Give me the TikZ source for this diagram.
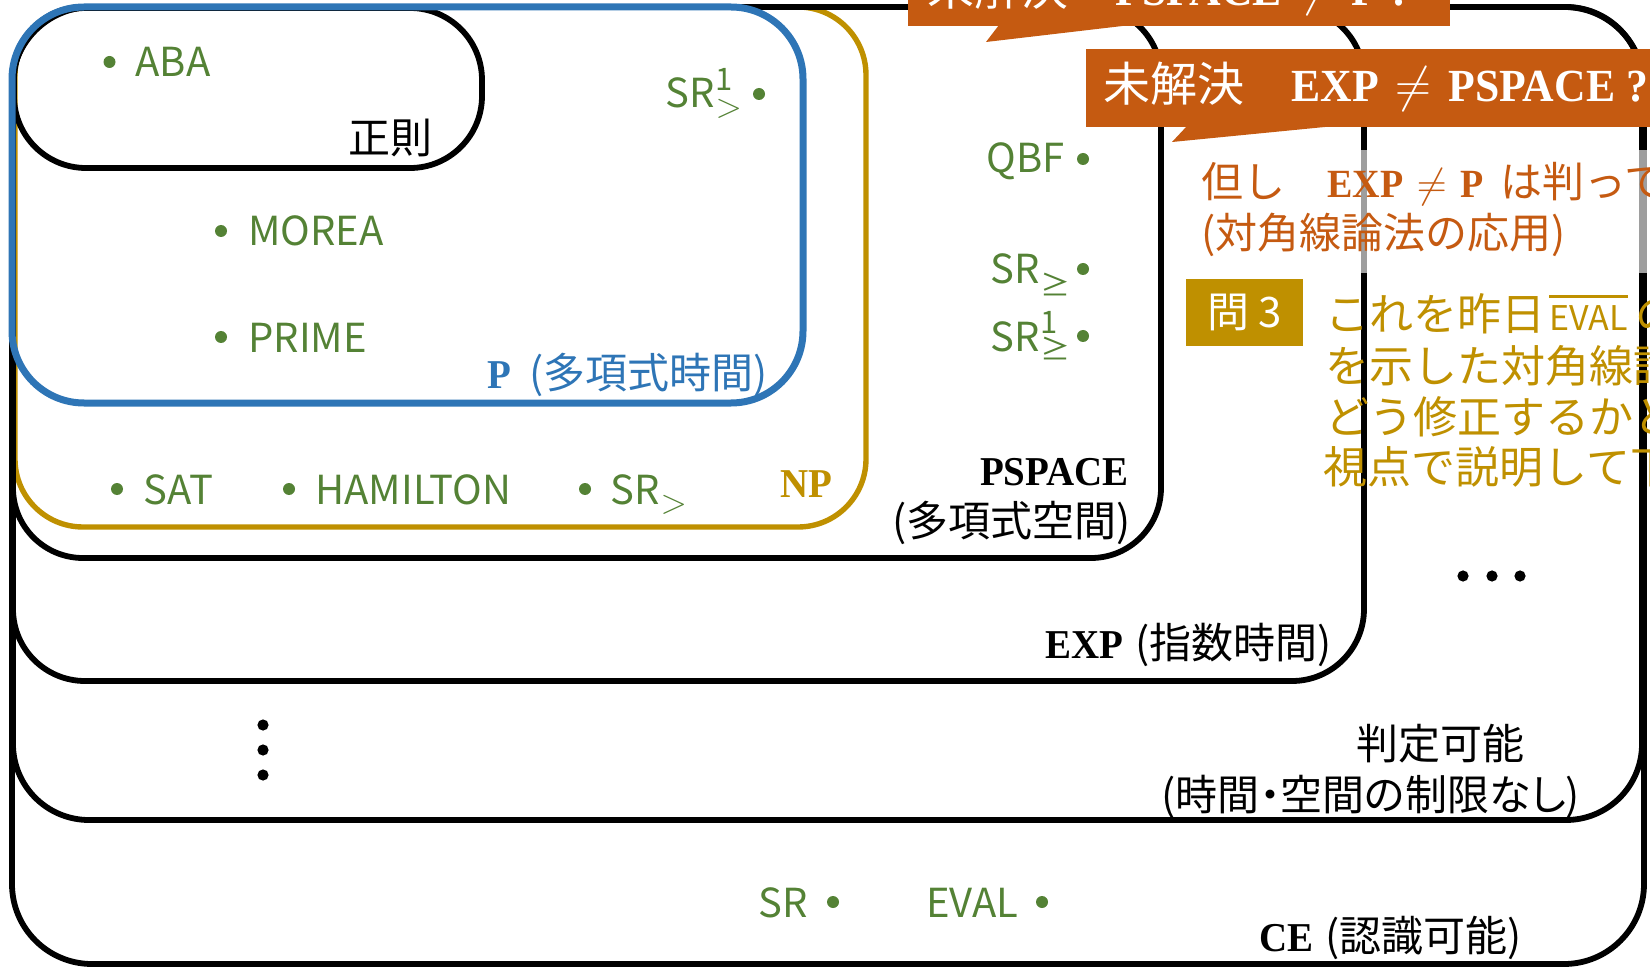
\documentclass[tikz,border=0pt]{standalone}
\usepackage{fontspec}
\newfontfamily\jp{Noto Sans CJK JP}
\newfontfamily\jpp[RawFeature=+palt]{Noto Sans CJK JP}
\newfontfamily\bserif[FakeStretch=0.95]{Liberation Serif}
\definecolor{itemgreen}{HTML}{548235}
\definecolor{pblue}{HTML}{2E75B6}
\definecolor{npgold}{HTML}{BF9000}
\definecolor{callorange}{HTML}{C55A11}
\newcommand\itemfont{\jp\fontsize{20}{23}\selectfont}
\newcommand\lblfont{\jp\fontsize{21}{25}\selectfont}
\newcommand\clsfont{\bserif\bfseries\fontsize{20.5}{24}\selectfont}
\newcommand\callfont{\jp\fontsize{23.5}{28}\selectfont}
\newcommand\callser{\bserif\bfseries\fontsize{23}{28}\selectfont}
\newcommand\srss[5]{SR\kern0.5pt\rlap{\raisebox{#3}{\fontsize{15.5}{16}\selectfont #1}}\raisebox{-#4}{\fontsize{#5}{#5}\selectfont #2}}
\newsavebox\ovlbox
\newcommand\ovl[1]{\sbox\ovlbox{#1}\rlap{\raisebox{16.5pt}{\rule{\wd\ovlbox}{1.6pt}}}\usebox\ovlbox}
\begin{document}
\begin{tikzpicture}[x=0.5pt,y=-0.5pt,
  box/.style={draw=black, line width=2.9pt, rounded corners=36pt},
  item/.style={text=itemgreen, font=\itemfont, inner sep=0pt, anchor=base west},
  bul/.style={circle, fill=itemgreen, inner sep=0pt, minimum size=6pt},
  bdot/.style={circle, fill=black, inner sep=0pt, minimum size=5.6pt},
  lbl/.style={font=\lblfont, inner sep=0pt},
  gtxt/.style={font=\jp\fontsize{22}{26}\selectfont, text=npgold, anchor=base west, inner sep=0pt},
]
\useasboundingbox (0,0) rectangle (1650,968);
\clip (0,0) rectangle (1650,968);

% class boxes
\draw[draw=npgold, line width=2.7pt, rounded corners=34pt] (15,7) rectangle (866,527);
\draw[box, rounded corners=40pt] (12,7) rectangle (1644,964);
\draw[box, rounded corners=38pt] (13,7) rectangle (1642,820);
\draw[box] (13,7) rectangle (1364,681);
\draw[box, rounded corners=35pt] (13,7) rectangle (1161,558);
\draw[box] (14,8) rectangle (482,168);
\draw[draw=pblue, line width=3.5pt, rounded corners=36pt] (12,7) rectangle (803,403);

% translucent text backing
\fill[white, fill opacity=0.62] (1185,150) rectangle (1660,273);

% green items
\node[bul] (dABA) at (109.5,62) {};
\node[item] (tABA) at (135,77) {ABA};
\node[bul] (dMOR) at (221,231) {};
\node[item] (tMOR) at (248,246) {MOREA};
\node[bul] (dPRI) at (221,337) {};
\node[item] (tPRI) at (248,353) {PRIME};
\node[item] (tSRa) at (665,108) {\srss{1}{$>$}{8.5pt}{4.75pt}{19}};
\node[bul] (dSRa) at (759,94) {};
\node[item] (tQBF) at (986,173) {QBF};
\node[bul] (dQBF) at (1083,159) {};
\node[item] (tSRb) at (990,284) {\srss{}{≥}{0pt}{6.2pt}{15}};
\node[bul] (dSRb) at (1083,269) {};
\node[item] (tSRc) at (990,351) {\srss{1}{≥}{9pt}{5pt}{15}};
\node[bul] (dSRc) at (1083,336) {};
\node[bul] (dSAT) at (117,489) {};
\node[item] (tSAT) at (143,504) {SAT};
\node[bul] (dHAM) at (289,489) {};
\node[item] (tHAM) at (315,504) {HAMILTON};
\node[bul] (dSRd) at (585,489) {};
\node[item] (tSRd) at (610,504) {\srss{}{$>$}{0pt}{4.75pt}{19}};
\node[item] (tSR) at (758,917) {SR};
\node[bul] (dSR) at (833,902) {};
\node[item] (tEVAL) at (926,917) {EVAL};
\node[bul] (dEVAL) at (1042,902) {};

% class labels
\node[lbl, anchor=base east] (lREG) at (433,154) {正則};
\node[anchor=base east, inner sep=0pt, text=pblue] (lP) at (768,388) {{\clsfont P}\hspace{9pt}{\lblfont (多項式時間)}};
\node[anchor=base east, inner sep=0pt, text=npgold, font=\clsfont] (lNP) at (833,497) {NP};
\node[anchor=base east, inner sep=0pt, font=\clsfont] (lPS) at (1129,485) {PSPACE};
\node[lbl, anchor=base east] (lPSb) at (1131,536) {(多項式空間)};
\node[anchor=base east, inner sep=0pt] (lEXP) at (1332,658) {{\clsfont EXP}\hspace{6pt}{\lblfont (指数時間)}};
\node[lbl, anchor=base west] (lDEC) at (1356,759) {判定可能};
\node[inner sep=0pt, anchor=base west, font=\jpp\fontsize{21}{25}\selectfont] (lDECb) at (1161,810) {(時間・空間の制限なし)};
\node[anchor=base east, inner sep=0pt] (lCE) at (1522,951) {{\clsfont CE}\hspace{6pt}{\lblfont (認識可能)}};

% ellipses
\node[bdot] (v1) at (263,725) {};
\node[bdot] (v2) at (263,750) {};
\node[bdot] (v3) at (263,775) {};
\node[bdot] (h1) at (1463,576) {};
\node[bdot] (h2) at (1492,576) {};
\node[bdot] (h3) at (1520,576) {};

% right-hand notes
\node[anchor=base west, inner sep=0pt, text=callorange] (n1) at (1201,198) {{\lblfont 但し　}{\bserif\bfseries\fontsize{20}{24}\selectfont EXP\hspace{2pt} $\neq$\hspace{2pt} P }\hspace{4pt}{\lblfont は判って}};
\node[lbl, anchor=base west, text=callorange] (n2) at (1201,249) {(対角線論法の応用)};
\node[fill=npgold, text=white, minimum width=58.5pt, minimum height=33.5pt, inner sep=0pt, font=\lblfont] (q3) at (1244.5,312.5) {問 3};
\node[gtxt] (g1) at (1325,331) {これを昨日\kern2pt\ovl{\fontsize{17}{20}\selectfont EVAL}\kern4pt の};
\node[gtxt] (g2) at (1325,382) {を示した対角線論};
\node[gtxt] (g3) at (1325,433) {どう修正するかと};
\node[gtxt] (g4) at (1323,483) {視点で説明して下};

% callouts
\fill[callorange] (908,-60) rectangle (1450,26);
\fill[callorange] (999,25) -- (986,42) -- (1131,25) -- cycle;
\node[anchor=base west, inner sep=0pt, text=white, font=\callfont] (c1) at (927,6) {未解決　{\callser PSPACE\hspace{3pt} $\neq$\hspace{3pt} P ?}};
\fill[callorange] (1086,49) rectangle (1660,127);
\fill[callorange] (1187,126) -- (1172,142) -- (1335,126) -- cycle;
\node[anchor=base west, inner sep=0pt, text=white, font=\callfont] (c2) at (1103,102) {未解決　{\callser EXP\hspace{3pt} $\neq$\hspace{3pt} PSPACE ?}};
\end{tikzpicture}
\end{document}
